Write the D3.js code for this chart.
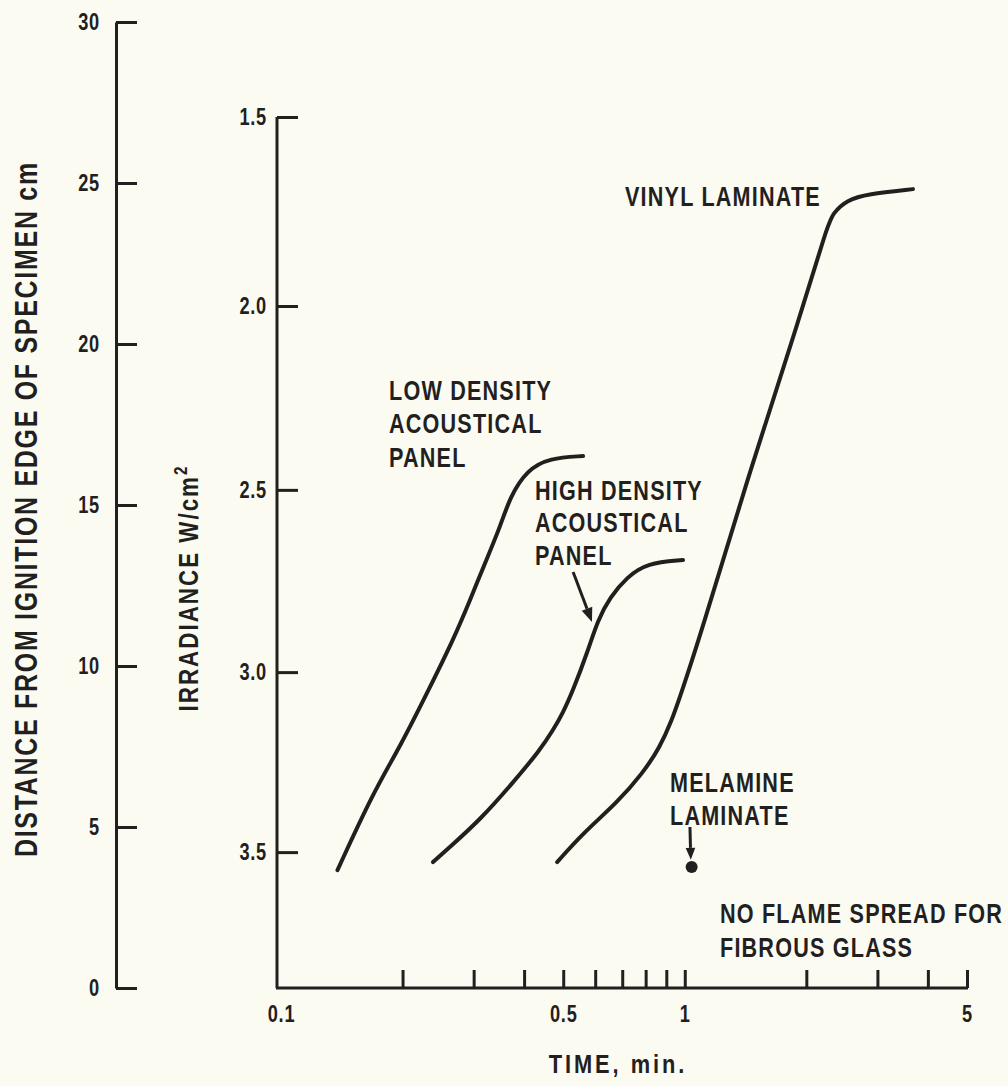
<!DOCTYPE html>
<html>
<head>
<meta charset="utf-8">
<script src="https://cdn.jsdelivr.net/npm/d3@7/dist/d3.min.js"></script>
<style>
  html, body { margin: 0; padding: 0; background: #fbfbf1; }
  svg { display: block; }
  text { font-family: "Liberation Sans", Arial, sans-serif; fill: #231f1f; }
</style>
</head>
<body>
<svg id="chart" width="1008" height="1086"></svg>
<script>
// Time axis (log), minutes
const timeTicks = [0.2, 0.3, 0.4, 0.5, 0.6, 0.7, 0.8, 0.9, 1, 2, 3, 4, 5];
const timeLabels = [0.1, 0.5, 1, 5];

// Distance from ignition edge, cm
const distanceTicks = [0, 5, 10, 15, 20, 25, 30];

// Irradiance ticks and the distance (cm) at which each irradiance occurs
const irradianceTicks = [1.5, 2.0, 2.5, 3.0, 3.5];
const irradianceAtDistance = [27.05, 21.18, 15.47, 9.81, 4.22];

// Flame front position vs time for each material: [time min, distance cm]
const lowDensityPanel = [
  [0.138, 3.66], [0.169, 6.06], [0.197, 7.48], [0.234, 9.35], [0.267, 10.81],
  [0.294, 12.05], [0.317, 13.07], [0.349, 14.32], [0.369, 15.25], [0.407, 16.09],
  [0.463, 16.46], [0.560, 16.52]
];
const highDensityPanel = [
  [0.238, 3.91], [0.262, 4.38], [0.311, 5.22], [0.375, 6.37], [0.438, 7.39],
  [0.472, 8.01], [0.499, 8.54], [0.529, 9.25], [0.573, 10.40], [0.609, 11.43],
  [0.653, 12.14], [0.719, 12.76], [0.806, 13.20], [0.990, 13.29]
];
const vinylLaminate = [
  [0.483, 3.91], [0.560, 4.81], [0.679, 5.75], [0.788, 6.68], [0.868, 7.48],
  [0.929, 8.32], [0.973, 9.04], [1.090, 10.90], [1.426, 15.78],
  [1.929, 20.84], [2.250, 23.63], [2.328, 24.07], [2.522, 24.47],
  [2.827, 24.66], [3.674, 24.81]
];
const melamineLaminate = [1.04, 3.76];

// Annotation arrows: [from, to] in [time, distance]
const highDensityArrow = [[0.529, 12.92], [0.589, 11.37]];
const melamineArrow = [[1.03, 5.0], [1.035, 3.98]];

const svg = d3.select("#chart");
const ink = "#231f1f";

const x = d3.scaleLog().domain([0.1, 5]).range([281, 967]);
const y = d3.scaleLinear().domain([0, 30]).range([988, 22]);
const irr = d3.scaleLinear().domain(irradianceTicks).range(irradianceAtDistance.map(y));

// Narrow the lettering horizontally around each text's own x anchor
function squeeze(sel, s) {
  sel.each(function () {
    const t = d3.select(this);
    const ax = +(t.attr("x") || 0);
    const prev = t.attr("transform") || "";
    t.attr("transform", `${prev} translate(${ax * (1 - s)},0) scale(${s},1)`);
  });
}

// Distance axis
const distAxis = svg.append("g")
  .attr("transform", "translate(116,0)")
  .call(d3.axisLeft(y).tickValues(distanceTicks).tickSizeInner(-21).tickSizeOuter(0).tickPadding(16));
distAxis.selectAll("path, line").attr("stroke", ink).attr("stroke-width", 3);

// Irradiance axis
const irrAxis = svg.append("g")
  .attr("transform", "translate(277,0)")
  .call(d3.axisLeft(irr).tickValues(irradianceTicks).tickFormat(d3.format(".1f"))
    .tickSizeInner(-21).tickSizeOuter(0).tickPadding(10));
irrAxis.select(".domain").remove();
irrAxis.append("line")
  .attr("x1", 0).attr("x2", 0)
  .attr("y1", irr(irradianceTicks[0])).attr("y2", y(0))
  .attr("stroke", ink).attr("stroke-width", 3);
irrAxis.selectAll("line").attr("stroke", ink).attr("stroke-width", 3);

// Time axis: tick marks point up into the plot
const timeAxis = svg.append("g")
  .attr("transform", `translate(0,${y(0)})`)
  .call(d3.axisBottom(x).tickValues(timeTicks).tickFormat("").tickSizeInner(-18).tickSizeOuter(0));
timeAxis.select(".domain").remove();
timeAxis.append("line")
  .attr("x1", 276).attr("x2", x(5) + 1)
  .attr("y1", 0).attr("y2", 0)
  .attr("stroke", ink).attr("stroke-width", 3);
timeAxis.selectAll("line").attr("stroke", ink).attr("stroke-width", 3);

const timeLabelAxis = svg.append("g")
  .attr("transform", `translate(0,${y(0)})`)
  .call(d3.axisBottom(x).tickValues(timeLabels).tickFormat(d => String(d)).tickSize(0).tickPadding(17));
timeLabelAxis.select(".domain").remove();

svg.selectAll(".tick text")
  .attr("font-family", null)
  .attr("font-size", 24)
  .attr("font-weight", "bold")
  .attr("letter-spacing", 1)
  .attr("fill", ink);
squeeze(svg.selectAll(".tick text"), 0.76);

// Axis titles
svg.append("text")
  .attr("transform", "translate(37,510) rotate(-90) scale(0.78,1)")
  .attr("text-anchor", "middle")
  .attr("font-size", 32)
  .attr("font-weight", "bold")
  .attr("textLength", 890)
  .attr("lengthAdjust", "spacing")
  .text("DISTANCE FROM IGNITION EDGE OF SPECIMEN cm");

const irrTitle = svg.append("text")
  .attr("transform", "translate(198,588) rotate(-90) scale(0.8,1)")
  .attr("text-anchor", "middle")
  .attr("font-size", 28)
  .attr("font-weight", "bold")
  .attr("letter-spacing", 2.5);
irrTitle.append("tspan").text("IRRADIANCE W/cm");
irrTitle.append("tspan").attr("dy", -11).attr("font-size", 19).text("2");

const timeTitle = svg.append("text")
  .attr("x", 618).attr("y", 1073)
  .attr("text-anchor", "middle")
  .attr("font-size", 26)
  .attr("font-weight", "bold")
  .attr("letter-spacing", 3.5)
  .text("TIME, min.");
squeeze(timeTitle, 0.84);

// Curves
const line = d3.line()
  .x(d => x(d[0]))
  .y(d => y(d[1]))
  .curve(d3.curveBasis);

[lowDensityPanel, highDensityPanel, vinylLaminate].forEach(series => {
  svg.append("path")
    .datum(series)
    .attr("d", line)
    .attr("fill", "none")
    .attr("stroke", ink)
    .attr("stroke-width", 4)
    .attr("stroke-linecap", "round")
    .attr("stroke-linejoin", "round");
});

// Melamine point
svg.append("circle")
  .attr("cx", x(melamineLaminate[0]))
  .attr("cy", y(melamineLaminate[1]))
  .attr("r", 6)
  .attr("fill", ink);

// Arrows
function arrow(pts, head) {
  const [a, b] = pts;
  const x1 = x(a[0]), y1 = y(a[1]), x2 = x(b[0]), y2 = y(b[1]);
  const ang = Math.atan2(y2 - y1, x2 - x1);
  const bx = x2 - head * Math.cos(ang), by = y2 - head * Math.sin(ang);
  svg.append("line")
    .attr("x1", x1).attr("y1", y1).attr("x2", bx).attr("y2", by)
    .attr("stroke", ink).attr("stroke-width", 3);
  const w = head * 0.4;
  const px = -Math.sin(ang) * w, py = Math.cos(ang) * w;
  svg.append("path")
    .attr("d", `M${x2},${y2}L${bx + px},${by + py}L${bx - px},${by - py}Z`)
    .attr("fill", ink);
}
arrow(highDensityArrow, 14);
arrow(melamineArrow, 12);

// Annotations
function label(lines, x0, y0, step) {
  const t = svg.append("text")
    .attr("x", x0)
    .attr("font-size", 27)
    .attr("font-weight", "bold")
    .attr("letter-spacing", 1.5);
  lines.forEach((s, i) => {
    t.append("tspan").attr("x", x0).attr("y", y0 + i * step).text(s);
  });
  squeeze(t, 0.8);
}
label(["LOW DENSITY", "ACOUSTICAL", "PANEL"], 389, 400, 33.5);
label(["HIGH DENSITY", "ACOUSTICAL", "PANEL"], 535, 500, 32.5);
label(["VINYL LAMINATE"], 625, 206, 0);
label(["MELAMINE", "LAMINATE"], 670, 792, 33);
label(["NO FLAME SPREAD FOR", "FIBROUS GLASS"], 720, 923, 34);
</script>
</body>
</html>
